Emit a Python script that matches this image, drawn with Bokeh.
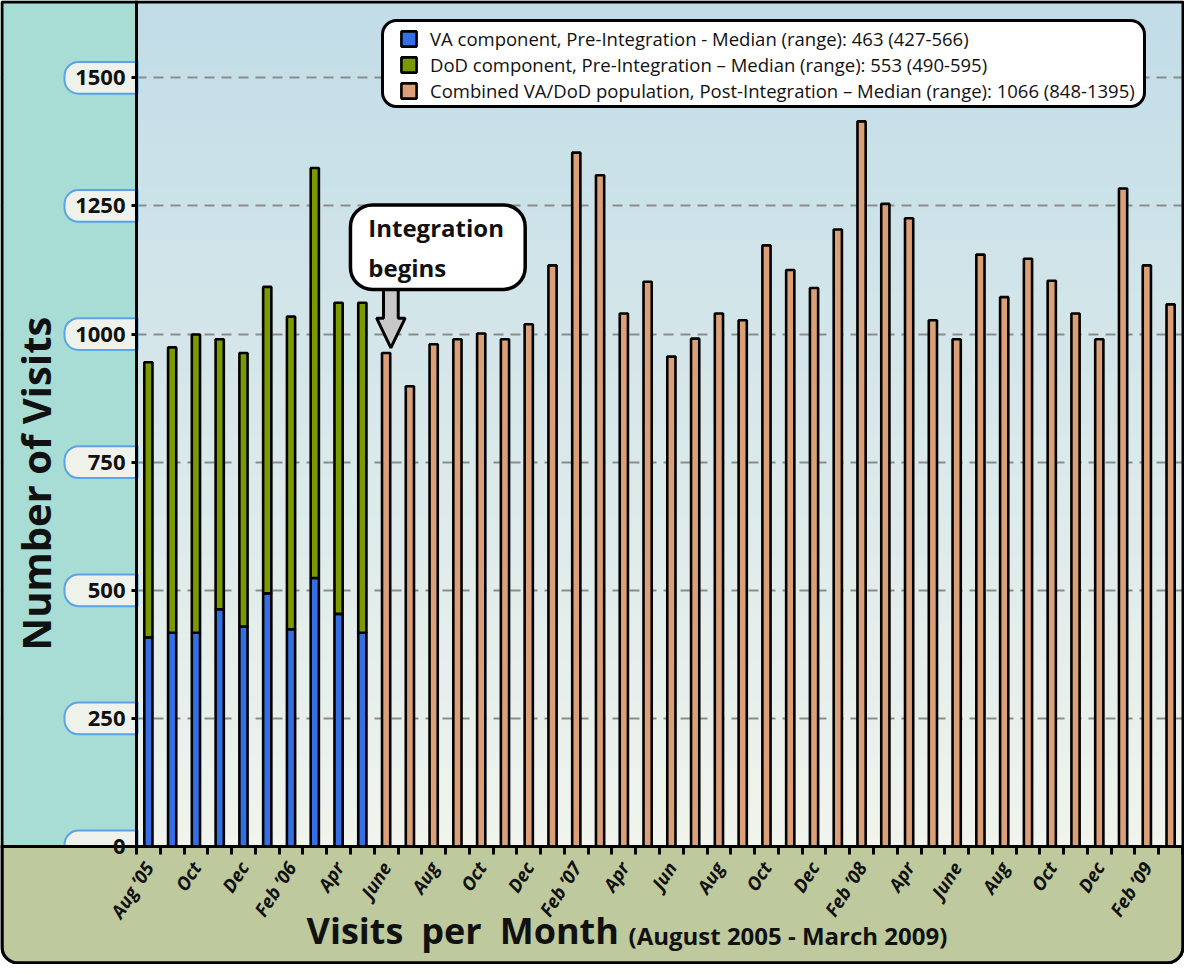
import numpy as np
from math import pi
from bokeh.plotting import figure
from bokeh.models import (Range1d, FixedTicker, BoxAnnotation, Label,
                          PolyAnnotation, Legend, LegendItem)
from bokeh.embed import file_html
from bokeh.resources import INLINE

# ---------------- data ----------------
va_pre = [408, 417, 417, 463, 429, 494, 424, 524, 454, 417]          # Aug '05 - May '06
dod_pre = [537, 557, 582, 527, 534, 598, 610, 800, 607, 644]          # Aug '05 - May '06
combined_post = [963, 898, 980, 990, 1001, 990, 1019,                 # Jun - Dec '06
                 1134, 1354, 1310, 1040, 1102, 956, 991, 1040, 1027, 1173, 1125, 1090,   # 2007
                 1204, 1415, 1254, 1226, 1027, 990, 1155, 1072, 1147, 1104, 1040, 990,   # 2008
                 1284, 1134, 1058]                                    # Jan - Mar '09
tick_labels = ["Aug \u201905", "Oct", "Dec", "Feb \u201906", "Apr", "June", "Aug", "Oct",
               "Dec", "Feb \u201907", "Apr", "Jun", "Aug", "Oct", "Dec", "Feb \u201908",
               "Apr", "June", "Aug", "Oct", "Dec", "Feb \u201909"]
y_ticks = [0, 250, 500, 750, 1000, 1250, 1500]
legend_labels = [
    "VA component, Pre-Integration - Median (range): 463 (427-566)",
    "DoD component, Pre-Integration \u2013 Median (range): 553 (490-595)",
    "Combined VA/DoD population, Post-Integration \u2013 Median (range): 1066 (848-1395)",
]

# ---------------- styling / layout ----------------
BLUE, GREEN, ORANGE = "#3470e4", "#7b9a00", "#dca078"
TEAL, OLIVE = "#a8ddd6", "#bec99d"
PILL_FILL, PILL_LINE = "#eff2ea", "#5ba3e6"
FONT = "Open Sans"

W, H = 1184, 964
PL, PR, PT, PB = 136, 1182, 2, 846       # plot-area edges in canvas pixels
YTOP = 1647                              # value at the plot-area top

n_pre = len(va_pre)
n_post = len(combined_post)
n = n_pre + n_post
x_pre = list(range(n_pre))
x_post = list(range(n_pre, n))
top_pre = [a + b for a, b in zip(va_pre, dod_pre)]

ppx = (PR - PL) / n
ppy = (PB - PT) / YTOP
x0, x1 = -0.5 - PL / ppx, n - 0.5 + (W - PR) / ppx
y0, y1 = -(H - PB) / ppy, YTOP + PT / ppy

p = figure(width=W, height=H, x_range=Range1d(x0, x1), y_range=Range1d(y0, y1),
           output_backend="svg", toolbar_location=None, min_border=0,
           border_fill_color="white", background_fill_color="white",
           outline_line_color=None)
p.title.visible = False

# gradient background of the plot area
ny = 64
t = np.linspace(0, 1, ny)
c_bot = np.array([240, 244, 237])
c_top = np.array([194, 221, 232])
img = np.zeros((ny, 1), dtype=np.uint32)
view = img.view(dtype=np.uint8).reshape((ny, 1, 4))
for k in range(3):
    view[:, 0, k] = (c_bot[k] * (1 - t) + c_top[k] * t).astype(np.uint8)
view[:, 0, 3] = 255
p.image_rgba(image=[img], x=-0.5, y=0, dw=x1 + 0.5, dh=y1, level="image")

# bars
BW = 0.345
r_va = p.vbar(x=x_pre, bottom=0, top=va_pre, width=BW, fill_color=BLUE,
              line_color="black", line_width=2.6)
r_dod = p.vbar(x=x_pre, bottom=va_pre, top=top_pre, width=BW, fill_color=GREEN,
               line_color="black", line_width=2.6)
r_post = p.vbar(x=x_post, bottom=0, top=combined_post, width=BW, fill_color=ORANGE,
                line_color="black", line_width=2.6)

# grid
p.xgrid.grid_line_color = None
p.ygrid.grid_line_color = "#8c8c8c"
p.ygrid.grid_line_dash = "10 7"
p.ygrid.grid_line_width = 2

# y axis (drawn at the left edge of the plot area)
p.yaxis.fixed_location = -0.5
p.yaxis.bounds = (0, y1)
p.yaxis.ticker = FixedTicker(ticks=y_ticks, minor_ticks=[])
p.yaxis.axis_line_color = "black"
p.yaxis.axis_line_width = 3
p.yaxis.major_tick_out = 5
p.yaxis.major_tick_in = 0
p.yaxis.major_tick_line_width = 3
p.yaxis.minor_tick_line_color = None
p.yaxis.major_label_text_font = FONT
p.yaxis.major_label_text_font_size = "22px"
p.yaxis.major_label_text_font_style = "bold"
p.yaxis.major_label_text_color = "#111111"
p.yaxis.major_label_standoff = 6

# x axis (drawn at value 0)
p.xaxis.fixed_location = 0
p.xaxis.ticker = FixedTicker(ticks=list(range(0, n, 2)),
                             minor_ticks=[i - 0.5 for i in range(n + 1)])
p.xaxis.major_label_overrides = {2 * i: lab for i, lab in enumerate(tick_labels)}
p.xaxis.axis_line_color = "black"
p.xaxis.axis_line_width = 3
p.xaxis.major_tick_line_color = None
p.xaxis.major_tick_out = 8
p.xaxis.major_tick_in = 0
p.xaxis.minor_tick_out = 8
p.xaxis.minor_tick_in = 0
p.xaxis.minor_tick_line_width = 3
p.xaxis.minor_tick_line_color = "black"
p.xaxis.major_label_orientation = 1.0
p.xaxis.major_label_text_font = FONT
p.xaxis.major_label_text_font_size = "18.5px"
p.xaxis.major_label_text_font_style = "bold italic"
p.xaxis.major_label_text_color = "#111111"
p.xaxis.major_label_standoff = 9


def cbox(left, right, top, bottom, **kw):
    return BoxAnnotation(left=left, right=right, top=top, bottom=bottom,
                         left_units="canvas", right_units="canvas",
                         top_units="canvas", bottom_units="canvas", **kw)


# teal band on the left
p.add_layout(cbox(0, PL, 0, PB, fill_color=TEAL, fill_alpha=1, line_color=None,
                  level="underlay"))

# pills behind the y tick labels
for v in y_ticks:
    p.add_layout(BoxAnnotation(left=64, right=PL + 1, top=v + 31, bottom=v - 31,
                               left_units="canvas", right_units="canvas",
                               top_units="data", bottom_units="data",
                               fill_color=PILL_FILL, fill_alpha=1, line_color=PILL_LINE,
                               line_alpha=1, line_width=2,
                               border_radius=(14, 0, 0, 14), level="underlay"))

# olive band at the bottom
p.add_layout(cbox(1.5, W - 1.5, PB, H - 1.5, fill_color=OLIVE, fill_alpha=1,
                  line_color="black", line_alpha=1, line_width=3,
                  border_radius=(0, 0, 16, 16), level="underlay"))

# outer border
p.add_layout(cbox(1.5, W - 1.5, 1.5, H - 1.5, fill_color=None, line_color="black",
                  line_alpha=1, line_width=3, border_radius=(0, 0, 16, 16),
                  level="overlay"))

# axis titles
p.add_layout(Label(x=35, y=483, x_units="canvas", y_units="canvas", text="Number of Visits",
                   angle=pi / 2, text_align="center", text_baseline="middle",
                   text_font=FONT, text_font_size="40px", text_font_style="bold",
                   text_color="#111111"))
p.add_layout(Label(x=306, y=905, x_units="canvas", y_units="canvas",
                   text="Visits\u2002per\u2002Month",
                   text_align="left", text_baseline="top",
                   text_font=FONT, text_font_size="36px", text_font_style="bold",
                   text_color="#111111"))
p.add_layout(Label(x=628, y=918, x_units="canvas", y_units="canvas",
                   text="(August 2005 - March 2009)",
                   text_align="left", text_baseline="top",
                   text_font=FONT, text_font_size="24px", text_font_style="bold",
                   text_color="#111111"))

# legend with rounded box
p.add_layout(cbox(382, 1144, 20, 106, fill_color="white", fill_alpha=1, line_color="black",
                  line_alpha=1, line_width=3, border_radius=14, level="annotation"))
legend = Legend(items=[LegendItem(label=legend_labels[0], renderers=[r_va]),
                       LegendItem(label=legend_labels[1], renderers=[r_dod]),
                       LegendItem(label=legend_labels[2], renderers=[r_post])],
                location=(399, 861), background_fill_alpha=0, border_line_color=None,
                glyph_width=19, glyph_height=19, label_height=19, spacing=1,
                padding=0, margin=0, label_standoff=12,
                label_text_font=FONT, label_text_font_size="18.5px",
                label_text_color="#111111")
p.add_layout(legend)

# "Integration begins" call-out
c = n_pre + 0.2
tip = combined_post[0] + 10
p.add_layout(PolyAnnotation(xs=[c - 0.31, c + 0.31, c + 0.31, c + 0.6, c, c - 0.6, c - 0.31],
                            ys=[1095, 1095, tip + 58, tip + 58, tip, tip + 58, tip + 58],
                            fill_color="#c8c8c8", fill_alpha=1, line_color="black",
                            line_alpha=1, line_width=3, level="annotation"))
p.add_layout(BoxAnnotation(left=n_pre - 1.5, right=n_pre + 5.85, top=1252, bottom=1087,
                           fill_color="white", fill_alpha=1, line_color="black",
                           line_alpha=1, line_width=3.5, border_radius=22,
                           level="annotation"))
p.add_layout(Label(x=n_pre - 0.75, y=1240, text="Integration\nbegins",
                   text_align="left", text_baseline="top", text_line_height=1.2,
                   text_font=FONT, text_font_size="24px", text_font_style="bold",
                   text_color="#111111"))

open("out.html", "w").write(file_html(p, INLINE))
